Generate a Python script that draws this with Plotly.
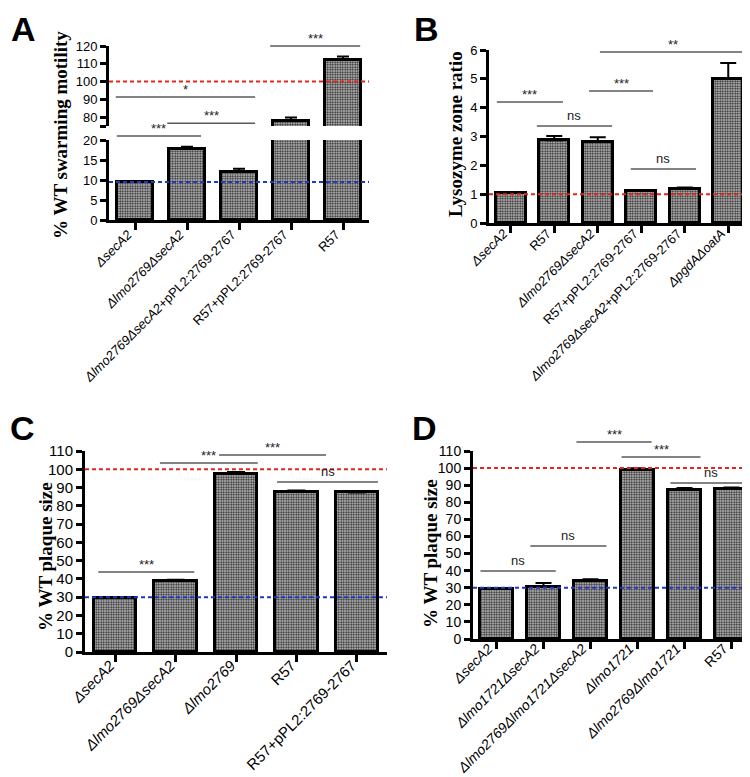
import plotly.graph_objects as go

W, H = 750, 777

# ---------------- data ----------------
a_cats = ["<i>ΔsecA2</i>", "<i>Δlmo2769ΔsecA2</i>",
          "<i>Δlmo2769ΔsecA2</i>+pPL2:2769-2767", "R57+pPL2:2769-2767", "R57"]
a_vals = [9.5, 17.8, 12.0, 78.0, 112.3]
a_err = [0.2, 0.5, 0.8, 1.8, 1.8]

b_cats = ["<i>ΔsecA2</i>", "R57", "<i>Δlmo2769ΔsecA2</i>", "R57+pPL2:2769-2767",
          "<i>Δlmo2769ΔsecA2</i>+pPL2:2769-2767", "<i>ΔpgdAΔoatA</i>"]
b_vals = [1.05, 2.87, 2.82, 1.12, 1.18, 5.0]
b_err = [0.02, 0.15, 0.15, 0.02, 0.05, 0.55]

c_cats = ["<i>ΔsecA2</i>", "<i>Δlmo2769ΔsecA2</i>", "<i>Δlmo2769</i>", "R57",
          "R57+pPL2:2769-2767"]
c_vals = [29.6, 38.9, 97.4, 87.6, 87.3]
c_err = [0.3, 0.6, 1.1, 0.8, 0.7]

d_cats = ["<i>ΔsecA2</i>", "<i>Δlmo1721ΔsecA2</i>", "<i>Δlmo2769Δlmo1721ΔsecA2</i>",
          "<i>Δlmo1721</i>", "<i>Δlmo2769Δlmo1721</i>", "R57"]
d_vals = [29.3, 30.4, 34.0, 98.9, 87.2, 87.8]
d_err = [0.4, 2.3, 0.9, 1.0, 1.2, 0.8]

# significance brackets: (x_start, x_end in category units, y level in data units, label)
a_sig_upper = [(2.6, 4.33, 120.0, "***"), (-0.37, 2.31, 91.3, "*"), (0.62, 2.31, 76.6, "***")]
a_sig_lower = [(-0.35, 1.27, 21.0, "***")]
b_sig = [(2.05, 5.39, 5.93, "**"), (-0.32, 1.2, 4.2, "***"), (1.8, 3.27, 4.58, "***"),
         (0.6, 2.33, 3.36, "ns"), (2.76, 4.26, 1.87, "ns")]
c_sig = [(0.74, 2.36, 103.4, "***"), (1.72, 3.49, 107.8, "***"), (2.68, 4.35, 93.0, "ns"),
         (-0.28, 1.31, 43.8, "***")]
d_sig = [(1.7, 3.3, 115.3, "***"), (2.66, 4.34, 106.5, "***"), (3.7, 5.43, 91.3, "ns"),
         (0.72, 2.34, 54.4, "ns"), (-0.34, 1.26, 39.8, "ns")]

# reference lines
a_red, a_blue = 100, 9.5
b_red = 1.0
c_red, c_blue = 100, 30
d_red, d_blue = 100, 30

# ---------------- layout geometry (pixels) ----------------
def xd(p0, p1):
    return [p0 / W, p1 / W]

def yd(top, bottom):
    return [1 - bottom / H, 1 - top / H]

A_X = xd(101, 361)
A_YU = yd(38, 118); A_RU = [75, 120]
A_YL = yd(132, 212); A_RL = [0, 20]
B_X = xd(481, 742); B_Y = yd(42, 215); B_R = [0, 6]
C_X = xd(77, 379); C_Y = yd(443, 644); C_R = [0, 110]
D_X = xd(465, 747); D_Y = yd(443, 631); D_R = [0, 110]

SANS = "Liberation Sans, Arial, sans-serif"
SERIF = "Liberation Serif, Times New Roman, serif"

fig = go.Figure()

def bars(cats, vals, err, xa, ya, capw):
    n = len(cats)
    fig.add_trace(go.Bar(
        x=list(range(n)), y=vals, width=0.7, xaxis=xa, yaxis=ya,
        marker=dict(color="#8c8c8c", line=dict(color="black", width=3),
                    pattern=dict(shape=".", fgcolor="#2a2a2a", bgcolor="#d0d0d0",
                                 size=2.5, solidity=0.5)),
        error_y=dict(type="data", symmetric=False, array=err, arrayminus=[0] * n,
                     color="black", thickness=2, width=capw),
        showlegend=False, hoverinfo="skip"))

bars(a_cats, a_vals, a_err, "x", "y", 6)
bars(a_cats, a_vals, a_err, "x2", "y2", 6)
bars(b_cats, b_vals, b_err, "x3", "y3", 8)
bars(c_cats, c_vals, c_err, "x4", "y4", 9)
bars(d_cats, d_vals, d_err, "x5", "y5", 8)

yax = dict(showline=True, linewidth=3, linecolor="black", ticks="outside", ticklen=6,
           tickwidth=3, tickcolor="black", showgrid=False, zeroline=False,
           automargin=False, fixedrange=True)
xax = dict(showline=True, linewidth=3, linecolor="black", ticks="outside", ticklen=7,
           tickwidth=3, tickcolor="black", showgrid=False, zeroline=False,
           tickangle=-45, automargin=False, fixedrange=True)

def xaxis(dom, n, anchor, fs, ticktext=None, shift=-5, standoff=-12):
    if ticktext is None:
        return dict(domain=dom, range=[-0.5, n - 0.5], anchor=anchor, visible=False,
                    automargin=False, fixedrange=True)
    return dict(xax, domain=dom, range=[-0.5, n - 0.5], anchor=anchor,
                tickvals=list(range(n)), ticktext=ticktext,
                ticklabelshift=shift, ticklabelstandoff=standoff,
                tickfont=dict(family=SANS, size=fs, color="black"))

def yaxis(dom, rng, anchor, tickvals, fs, ticktext=None):
    d = dict(yax, domain=dom, range=rng, anchor=anchor, tickvals=tickvals,
             tickfont=dict(family=SANS, size=fs, color="black"))
    if ticktext is not None:
        d["ticktext"] = ticktext
    return d

up_ticks = [75, 80, 90, 100, 110, 120]
fig.update_layout(
    template="none",
    xaxis=xaxis(A_X, len(a_cats), "y", 13),
    yaxis=yaxis(A_YU, A_RU, "x", up_ticks, 13, [""] + [str(v) for v in up_ticks[1:]]),
    xaxis2=xaxis(A_X, len(a_cats), "y2", 13, a_cats, -7, -8),
    yaxis2=yaxis(A_YL, A_RL, "x2", [0, 5, 10, 15, 20], 13),
    xaxis3=xaxis(B_X, len(b_cats), "y3", 13, b_cats, -7, -12),
    yaxis3=yaxis(B_Y, B_R, "x3", [0, 1, 2, 3, 4, 5, 6], 13),
    xaxis4=xaxis(C_X, len(c_cats), "y4", 15, c_cats, -5, -11),
    yaxis4=yaxis(C_Y, C_R, "x4", list(range(0, 111, 10)), 15),
    xaxis5=xaxis(D_X, len(d_cats), "y5", 14, d_cats, -8, -14),
    yaxis5=yaxis(D_Y, D_R, "x5", list(range(0, 111, 10)), 14),
)

shapes = []
annos = []

def ref_line(xa, ya, val, color):
    shapes.append(dict(type="line", xref=xa + " domain", yref=ya, x0=0, x1=1, y0=val, y1=val,
                       line=dict(color=color, width=2, dash="4px,3px"), layer="above"))

RED, BLUE = "#e5261f", "#2435c8"
ref_line("x", "y", a_red, RED)
ref_line("x2", "y2", a_blue, BLUE)
ref_line("x3", "y3", b_red, RED)
ref_line("x4", "y4", c_red, RED)
ref_line("x4", "y4", c_blue, BLUE)
ref_line("x5", "y5", d_red, RED)
ref_line("x5", "y5", d_blue, BLUE)

def px(c, dom, n):
    return dom[0] + (c + 0.5) / n * (dom[1] - dom[0])

def py(v, dom, rng):
    return dom[0] + (v - rng[0]) / (rng[1] - rng[0]) * (dom[1] - dom[0])

def sig(items, xdom, n, ydom, rng):
    for x0, x1, yv, lab in items:
        yy = py(yv, ydom, rng)
        shapes.append(dict(type="line", xref="paper", yref="paper",
                           x0=px(x0, xdom, n), x1=px(x1, xdom, n), y0=yy, y1=yy,
                           line=dict(color="#5a5a5a", width=1.5)))
        annos.append(dict(xref="paper", yref="paper", x=px((x0 + x1) / 2, xdom, n), y=yy,
                          yshift=1 if lab == "ns" else -2,
                          text=lab, showarrow=False, xanchor="center", yanchor="bottom",
                          font=dict(family=SANS, size=13, color="#222")))

sig(a_sig_upper, A_X, len(a_cats), A_YU, A_RU)
sig(a_sig_lower, A_X, len(a_cats), A_YL, A_RL)
sig(b_sig, B_X, len(b_cats), B_Y, B_R)
sig(c_sig, C_X, len(c_cats), C_Y, C_R)
sig(d_sig, D_X, len(d_cats), D_Y, D_R)

# y-axis titles
def ytitle(text, xpix, ypix):
    annos.append(dict(xref="paper", yref="paper", x=xpix / W, y=1 - ypix / H,
                      text="<b>" + text + "</b>", textangle=-90, showarrow=False,
                      xanchor="center", yanchor="middle",
                      font=dict(family=SERIF, size=19, color="black")))

ytitle("% WT swarming motility", 52, 127)
ytitle("Lysozyme zone ratio", 447, 126)
ytitle("% WT plaque size", 37, 549)
ytitle("% WT plaque size", 422, 546)

def letter(t, xpix, ypix):
    annos.append(dict(xref="paper", yref="paper", x=xpix / W, y=1 - ypix / H,
                      text="<b>" + t + "</b>", showarrow=False, xanchor="center",
                      yanchor="middle", font=dict(family=SANS, size=34, color="black")))

letter("A", 15, 21)
letter("B", 418, 21)
letter("C", 14, 420)
letter("D", 416, 420)

fig.update_layout(width=W, height=H, margin=dict(l=0, r=0, t=0, b=0, pad=0, autoexpand=False),
                  paper_bgcolor="white", plot_bgcolor="white",
                  shapes=shapes, annotations=annos, showlegend=False, bargap=0)

fig.write_html("out.html")
